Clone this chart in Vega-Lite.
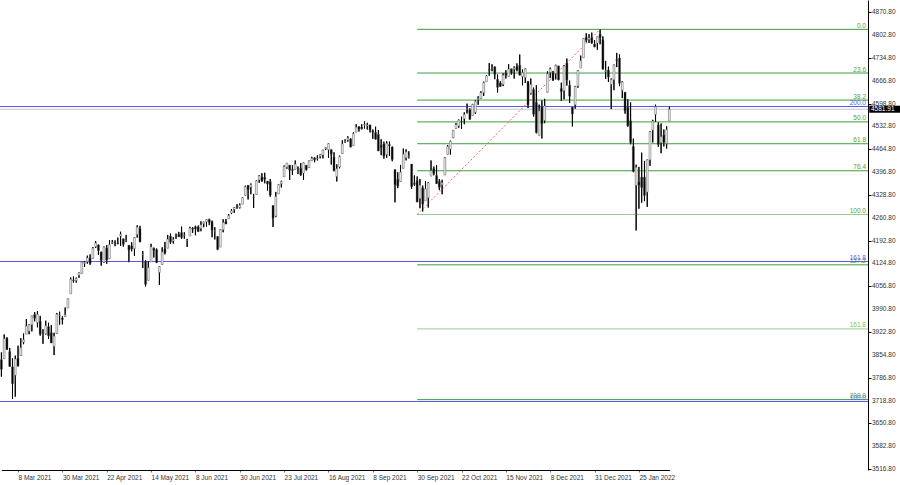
{
"$schema":"https://vega.github.io/schema/vega-lite/v6.json",
"width":868,"height":470,
"autosize":{"type":"none"},
"padding":{"left":0,"top":0,"right":32,"bottom":15},
"background":"white",
"config":{"view":{"stroke":null},"axis":{"grid":false,"labelOverlap":false,"labelFlush":false}},
"datasets":{
"ohlc":[
{"d":"2021-02-26","o":3839.7,"h":3861.1,"l":3789.5,"c":3811.2},
{"d":"2021-03-01","o":3842.5,"h":3914.5,"l":3842.5,"c":3901.8},
{"d":"2021-03-02","o":3903.6,"h":3906.4,"l":3868.6,"c":3870.3},
{"d":"2021-03-03","o":3864.0,"h":3874.5,"l":3818.9,"c":3819.7},
{"d":"2021-03-04","o":3818.5,"h":3843.7,"l":3723.3,"c":3768.5},
{"d":"2021-03-05","o":3793.6,"h":3851.7,"l":3730.2,"c":3841.9},
{"d":"2021-03-08","o":3844.4,"h":3881.1,"l":3819.3,"c":3821.4},
{"d":"2021-03-09","o":3851.9,"h":3903.8,"l":3851.9,"c":3875.4},
{"d":"2021-03-10","o":3892.0,"h":3917.4,"l":3885.7,"c":3898.8},
{"d":"2021-03-11","o":3915.5,"h":3960.3,"l":3915.5,"c":3939.3},
{"d":"2021-03-12","o":3924.5,"h":3945.0,"l":3915.2,"c":3943.3},
{"d":"2021-03-15","o":3943.0,"h":3970.1,"l":3923.5,"c":3968.9},
{"d":"2021-03-16","o":3973.6,"h":3981.0,"l":3953.4,"c":3962.7},
{"d":"2021-03-17","o":3949.6,"h":3983.9,"l":3935.7,"c":3974.1},
{"d":"2021-03-18","o":3953.5,"h":3969.6,"l":3910.9,"c":3915.5},
{"d":"2021-03-19","o":3913.1,"h":3930.1,"l":3886.8,"c":3913.1},
{"d":"2021-03-22","o":3916.5,"h":3955.3,"l":3914.2,"c":3940.6},
{"d":"2021-03-23","o":3937.6,"h":3949.1,"l":3901.6,"c":3910.5},
{"d":"2021-03-24","o":3919.9,"h":3942.1,"l":3889.1,"c":3889.1},
{"d":"2021-03-25","o":3879.3,"h":3919.5,"l":3853.5,"c":3909.5},
{"d":"2021-03-26","o":3917.1,"h":3978.2,"l":3917.1,"c":3974.5},
{"d":"2021-03-29","o":3969.3,"h":3981.8,"l":3943.3,"c":3971.1},
{"d":"2021-03-30","o":3963.3,"h":3968.0,"l":3944.4,"c":3958.6},
{"d":"2021-03-31","o":3967.3,"h":3994.4,"l":3967.0,"c":3972.9},
{"d":"2021-04-01","o":3992.8,"h":4020.6,"l":3992.8,"c":4019.9},
{"d":"2021-04-05","o":4034.4,"h":4083.4,"l":4034.4,"c":4077.9},
{"d":"2021-04-06","o":4075.6,"h":4086.2,"l":4068.1,"c":4073.9},
{"d":"2021-04-07","o":4074.3,"h":4083.1,"l":4068.3,"c":4080.0},
{"d":"2021-04-08","o":4090.0,"h":4098.2,"l":4082.5,"c":4097.2},
{"d":"2021-04-09","o":4096.1,"h":4129.5,"l":4095.5,"c":4128.8},
{"d":"2021-04-12","o":4124.7,"h":4131.8,"l":4114.8,"c":4128.0},
{"d":"2021-04-13","o":4130.1,"h":4148.0,"l":4124.4,"c":4141.6},
{"d":"2021-04-14","o":4141.6,"h":4151.7,"l":4120.9,"c":4124.7},
{"d":"2021-04-15","o":4139.8,"h":4173.5,"l":4139.8,"c":4170.4},
{"d":"2021-04-16","o":4174.1,"h":4191.3,"l":4170.8,"c":4185.5},
{"d":"2021-04-19","o":4179.8,"h":4180.8,"l":4150.5,"c":4163.3},
{"d":"2021-04-20","o":4159.2,"h":4159.2,"l":4118.4,"c":4134.9},
{"d":"2021-04-21","o":4128.4,"h":4175.0,"l":4126.4,"c":4173.4},
{"d":"2021-04-22","o":4170.5,"h":4179.6,"l":4123.7,"c":4135.0},
{"d":"2021-04-23","o":4138.8,"h":4194.2,"l":4138.8,"c":4180.2},
{"d":"2021-04-26","o":4185.0,"h":4194.2,"l":4182.4,"c":4187.6},
{"d":"2021-04-27","o":4188.3,"h":4193.4,"l":4176.2,"c":4186.7},
{"d":"2021-04-28","o":4185.1,"h":4201.5,"l":4181.8,"c":4183.2},
{"d":"2021-04-29","o":4206.1,"h":4218.8,"l":4176.8,"c":4211.5},
{"d":"2021-04-30","o":4198.1,"h":4198.1,"l":4174.9,"c":4181.2},
{"d":"2021-05-03","o":4192.0,"h":4209.4,"l":4188.0,"c":4192.7},
{"d":"2021-05-04","o":4179.0,"h":4179.0,"l":4128.6,"c":4164.7},
{"d":"2021-05-05","o":4177.1,"h":4187.7,"l":4160.9,"c":4167.6},
{"d":"2021-05-06","o":4169.1,"h":4202.7,"l":4147.3,"c":4201.6},
{"d":"2021-05-07","o":4210.3,"h":4238.0,"l":4201.6,"c":4232.6},
{"d":"2021-05-10","o":4228.3,"h":4236.4,"l":4188.1,"c":4188.4},
{"d":"2021-05-11","o":4150.3,"h":4162.0,"l":4111.5,"c":4152.1},
{"d":"2021-05-12","o":4130.6,"h":4134.7,"l":4056.9,"c":4063.0},
{"d":"2021-05-13","o":4075.0,"h":4131.6,"l":4075.0,"c":4112.5},
{"d":"2021-05-14","o":4129.6,"h":4183.1,"l":4129.6,"c":4173.9},
{"d":"2021-05-17","o":4169.9,"h":4171.9,"l":4142.7,"c":4163.3},
{"d":"2021-05-18","o":4165.9,"h":4169.2,"l":4126.0,"c":4127.8},
{"d":"2021-05-19","o":4098.5,"h":4116.9,"l":4061.4,"c":4115.7},
{"d":"2021-05-20","o":4122.0,"h":4172.8,"l":4122.0,"c":4159.1},
{"d":"2021-05-21","o":4168.6,"h":4188.7,"l":4151.7,"c":4155.9},
{"d":"2021-05-24","o":4170.2,"h":4209.5,"l":4170.2,"c":4197.1},
{"d":"2021-05-25","o":4205.9,"h":4213.4,"l":4182.5,"c":4188.1},
{"d":"2021-05-26","o":4191.6,"h":4202.6,"l":4184.1,"c":4196.0},
{"d":"2021-05-27","o":4201.9,"h":4213.4,"l":4197.8,"c":4200.9},
{"d":"2021-05-28","o":4210.8,"h":4218.4,"l":4203.6,"c":4204.1},
{"d":"2021-06-01","o":4216.5,"h":4234.1,"l":4197.6,"c":4202.0},
{"d":"2021-06-02","o":4206.8,"h":4217.4,"l":4198.3,"c":4208.1},
{"d":"2021-06-03","o":4191.4,"h":4197.8,"l":4173.9,"c":4192.9},
{"d":"2021-06-04","o":4206.1,"h":4233.5,"l":4206.1,"c":4229.9},
{"d":"2021-06-07","o":4229.3,"h":4232.3,"l":4215.7,"c":4226.5},
{"d":"2021-06-08","o":4233.8,"h":4236.7,"l":4208.4,"c":4227.3},
{"d":"2021-06-09","o":4233.0,"h":4237.1,"l":4218.7,"c":4219.6},
{"d":"2021-06-10","o":4228.6,"h":4249.7,"l":4220.3,"c":4239.2},
{"d":"2021-06-11","o":4242.9,"h":4248.4,"l":4232.3,"c":4247.4},
{"d":"2021-06-14","o":4248.3,"h":4255.6,"l":4234.1,"c":4255.2},
{"d":"2021-06-15","o":4255.3,"h":4257.2,"l":4238.4,"c":4246.6},
{"d":"2021-06-16","o":4248.9,"h":4251.9,"l":4202.5,"c":4223.7},
{"d":"2021-06-17","o":4220.4,"h":4232.3,"l":4196.1,"c":4221.9},
{"d":"2021-06-18","o":4204.8,"h":4204.8,"l":4164.4,"c":4166.5},
{"d":"2021-06-21","o":4173.4,"h":4226.2,"l":4173.4,"c":4224.8},
{"d":"2021-06-22","o":4224.6,"h":4255.8,"l":4217.3,"c":4246.4},
{"d":"2021-06-23","o":4249.3,"h":4256.6,"l":4241.4,"c":4241.8},
{"d":"2021-06-24","o":4257.0,"h":4271.3,"l":4257.0,"c":4266.5},
{"d":"2021-06-25","o":4274.5,"h":4286.1,"l":4271.2,"c":4280.7},
{"d":"2021-06-28","o":4284.9,"h":4292.1,"l":4274.7,"c":4290.6},
{"d":"2021-06-29","o":4293.2,"h":4300.5,"l":4287.0,"c":4291.8},
{"d":"2021-06-30","o":4290.7,"h":4302.4,"l":4288.0,"c":4297.5},
{"d":"2021-07-01","o":4300.7,"h":4320.7,"l":4300.7,"c":4319.9},
{"d":"2021-07-02","o":4326.6,"h":4355.4,"l":4326.6,"c":4352.3},
{"d":"2021-07-06","o":4356.5,"h":4356.5,"l":4314.4,"c":4343.5},
{"d":"2021-07-07","o":4351.0,"h":4361.9,"l":4329.8,"c":4358.1},
{"d":"2021-07-08","o":4321.1,"h":4330.9,"l":4289.4,"c":4320.8},
{"d":"2021-07-09","o":4329.4,"h":4371.6,"l":4329.4,"c":4369.6},
{"d":"2021-07-12","o":4372.4,"h":4386.7,"l":4364.0,"c":4384.6},
{"d":"2021-07-13","o":4381.1,"h":4392.4,"l":4366.9,"c":4369.2},
{"d":"2021-07-14","o":4380.1,"h":4393.7,"l":4362.4,"c":4374.3},
{"d":"2021-07-15","o":4369.0,"h":4369.0,"l":4340.7,"c":4360.0},
{"d":"2021-07-16","o":4367.4,"h":4375.1,"l":4322.5,"c":4327.2},
{"d":"2021-07-19","o":4296.4,"h":4296.4,"l":4233.1,"c":4258.5},
{"d":"2021-07-20","o":4265.1,"h":4336.8,"l":4262.1,"c":4323.1},
{"d":"2021-07-21","o":4331.1,"h":4359.7,"l":4331.1,"c":4358.7},
{"d":"2021-07-22","o":4361.3,"h":4369.9,"l":4350.1,"c":4367.5},
{"d":"2021-07-23","o":4381.2,"h":4415.2,"l":4381.2,"c":4411.8},
{"d":"2021-07-26","o":4409.6,"h":4422.7,"l":4405.5,"c":4422.3},
{"d":"2021-07-27","o":4416.4,"h":4416.4,"l":4372.5,"c":4401.5},
{"d":"2021-07-28","o":4403.0,"h":4415.5,"l":4387.0,"c":4400.6},
{"d":"2021-07-29","o":4403.6,"h":4430.0,"l":4403.6,"c":4419.2},
{"d":"2021-07-30","o":4395.1,"h":4412.3,"l":4389.7,"c":4395.3},
{"d":"2021-08-02","o":4406.9,"h":4422.2,"l":4384.8,"c":4387.2},
{"d":"2021-08-03","o":4392.7,"h":4423.8,"l":4373.0,"c":4423.2},
{"d":"2021-08-04","o":4416.0,"h":4416.2,"l":4400.2,"c":4402.7},
{"d":"2021-08-05","o":4408.9,"h":4429.8,"l":4408.9,"c":4429.1},
{"d":"2021-08-06","o":4429.1,"h":4440.8,"l":4429.1,"c":4436.5},
{"d":"2021-08-09","o":4437.8,"h":4439.4,"l":4424.7,"c":4432.4},
{"d":"2021-08-10","o":4435.8,"h":4445.2,"l":4430.0,"c":4436.8},
{"d":"2021-08-11","o":4442.2,"h":4449.4,"l":4436.4,"c":4447.7},
{"d":"2021-08-12","o":4446.1,"h":4461.8,"l":4436.0,"c":4460.8},
{"d":"2021-08-13","o":4464.8,"h":4468.4,"l":4460.8,"c":4468.0},
{"d":"2021-08-16","o":4461.7,"h":4480.3,"l":4437.7,"c":4479.7},
{"d":"2021-08-17","o":4462.1,"h":4462.1,"l":4417.8,"c":4448.1},
{"d":"2021-08-18","o":4440.9,"h":4454.3,"l":4397.6,"c":4400.3},
{"d":"2021-08-19","o":4382.4,"h":4418.6,"l":4367.7,"c":4405.8},
{"d":"2021-08-20","o":4410.6,"h":4444.4,"l":4406.8,"c":4441.7},
{"d":"2021-08-23","o":4450.3,"h":4489.9,"l":4450.3,"c":4479.5},
{"d":"2021-08-24","o":4484.4,"h":4492.8,"l":4482.3,"c":4486.2},
{"d":"2021-08-25","o":4490.5,"h":4501.7,"l":4485.7,"c":4496.2},
{"d":"2021-08-26","o":4493.8,"h":4495.9,"l":4469.0,"c":4470.0},
{"d":"2021-08-27","o":4474.1,"h":4513.3,"l":4474.1,"c":4509.4},
{"d":"2021-08-30","o":4513.8,"h":4537.4,"l":4513.8,"c":4528.8},
{"d":"2021-08-31","o":4529.8,"h":4531.4,"l":4515.8,"c":4522.7},
{"d":"2021-09-01","o":4528.8,"h":4537.1,"l":4522.0,"c":4524.1},
{"d":"2021-09-02","o":4534.5,"h":4545.9,"l":4524.7,"c":4537.0},
{"d":"2021-09-03","o":4532.4,"h":4541.5,"l":4521.7,"c":4535.4},
{"d":"2021-09-07","o":4535.4,"h":4535.4,"l":4513.0,"c":4520.0},
{"d":"2021-09-08","o":4518.1,"h":4521.8,"l":4494.0,"c":4514.1},
{"d":"2021-09-09","o":4513.0,"h":4529.9,"l":4492.1,"c":4493.3},
{"d":"2021-09-10","o":4506.9,"h":4520.5,"l":4457.7,"c":4458.6},
{"d":"2021-09-13","o":4474.8,"h":4493.0,"l":4445.7,"c":4468.7},
{"d":"2021-09-14","o":4479.3,"h":4485.7,"l":4435.5,"c":4443.1},
{"d":"2021-09-15","o":4447.5,"h":4486.9,"l":4438.4,"c":4480.7},
{"d":"2021-09-16","o":4477.1,"h":4485.9,"l":4443.8,"c":4473.8},
{"d":"2021-09-17","o":4469.7,"h":4471.5,"l":4427.8,"c":4433.0},
{"d":"2021-09-20","o":4403.0,"h":4403.0,"l":4305.9,"c":4357.7},
{"d":"2021-09-21","o":4374.5,"h":4394.9,"l":4348.0,"c":4354.2},
{"d":"2021-09-22","o":4367.4,"h":4416.8,"l":4367.4,"c":4395.6},
{"d":"2021-09-23","o":4406.8,"h":4465.4,"l":4406.8,"c":4449.0},
{"d":"2021-09-24","o":4438.0,"h":4463.1,"l":4430.3,"c":4455.5},
{"d":"2021-09-27","o":4442.1,"h":4457.3,"l":4436.2,"c":4443.1},
{"d":"2021-09-28","o":4419.5,"h":4419.5,"l":4346.3,"c":4352.6},
{"d":"2021-09-29","o":4362.4,"h":4385.6,"l":4355.1,"c":4359.5},
{"d":"2021-09-30","o":4370.7,"h":4382.6,"l":4306.2,"c":4307.5},
{"d":"2021-10-01","o":4317.2,"h":4375.2,"l":4288.5,"c":4357.0},
{"d":"2021-10-04","o":4348.8,"h":4355.5,"l":4278.9,"c":4300.5},
{"d":"2021-10-05","o":4309.9,"h":4369.2,"l":4309.9,"c":4345.7},
{"d":"2021-10-06","o":4319.6,"h":4365.6,"l":4290.5,"c":4363.6},
{"d":"2021-10-07","o":4383.7,"h":4430.0,"l":4383.7,"c":4399.8},
{"d":"2021-10-08","o":4406.5,"h":4412.0,"l":4386.2,"c":4391.3},
{"d":"2021-10-11","o":4385.4,"h":4415.9,"l":4360.6,"c":4361.2},
{"d":"2021-10-12","o":4368.3,"h":4374.9,"l":4342.1,"c":4350.7},
{"d":"2021-10-13","o":4358.0,"h":4372.9,"l":4329.9,"c":4363.8},
{"d":"2021-10-14","o":4386.8,"h":4439.7,"l":4386.8,"c":4438.3},
{"d":"2021-10-15","o":4447.7,"h":4475.8,"l":4447.7,"c":4471.4},
{"d":"2021-10-18","o":4463.7,"h":4488.8,"l":4447.5,"c":4486.5},
{"d":"2021-10-19","o":4497.3,"h":4520.4,"l":4496.4,"c":4519.6},
{"d":"2021-10-20","o":4524.4,"h":4540.9,"l":4524.4,"c":4536.2},
{"d":"2021-10-21","o":4532.2,"h":4551.4,"l":4526.9,"c":4549.8},
{"d":"2021-10-22","o":4546.1,"h":4559.7,"l":4524.0,"c":4544.9},
{"d":"2021-10-25","o":4553.7,"h":4572.6,"l":4537.4,"c":4566.5},
{"d":"2021-10-26","o":4578.7,"h":4598.5,"l":4569.2,"c":4574.8},
{"d":"2021-10-27","o":4580.2,"h":4584.6,"l":4551.7,"c":4551.7},
{"d":"2021-10-28","o":4562.8,"h":4597.6,"l":4562.8,"c":4596.4},
{"d":"2021-10-29","o":4572.9,"h":4608.1,"l":4567.6,"c":4605.4},
{"d":"2021-11-01","o":4610.6,"h":4620.3,"l":4595.1,"c":4613.7},
{"d":"2021-11-02","o":4613.3,"h":4635.2,"l":4613.3,"c":4630.7},
{"d":"2021-11-03","o":4630.7,"h":4663.5,"l":4621.2,"c":4660.6},
{"d":"2021-11-04","o":4662.9,"h":4683.0,"l":4662.6,"c":4680.1},
{"d":"2021-11-05","o":4699.3,"h":4718.5,"l":4681.3,"c":4697.5},
{"d":"2021-11-08","o":4701.5,"h":4714.9,"l":4694.4,"c":4701.7},
{"d":"2021-11-09","o":4707.3,"h":4708.5,"l":4670.9,"c":4685.3},
{"d":"2021-11-10","o":4670.3,"h":4684.9,"l":4630.9,"c":4646.7},
{"d":"2021-11-11","o":4659.4,"h":4664.6,"l":4648.3,"c":4649.3},
{"d":"2021-11-12","o":4655.2,"h":4688.5,"l":4650.4,"c":4682.9},
{"d":"2021-11-15","o":4689.3,"h":4697.4,"l":4672.9,"c":4682.8},
{"d":"2021-11-16","o":4679.4,"h":4715.0,"l":4679.4,"c":4700.9},
{"d":"2021-11-17","o":4701.5,"h":4701.5,"l":4684.4,"c":4688.7},
{"d":"2021-11-18","o":4700.7,"h":4708.8,"l":4672.8,"c":4704.5},
{"d":"2021-11-19","o":4708.4,"h":4717.8,"l":4694.2,"c":4698.0},
{"d":"2021-11-22","o":4712.0,"h":4743.8,"l":4682.2,"c":4682.9},
{"d":"2021-11-23","o":4678.5,"h":4699.4,"l":4652.7,"c":4690.7},
{"d":"2021-11-24","o":4675.8,"h":4702.9,"l":4659.9,"c":4701.5},
{"d":"2021-11-26","o":4664.6,"h":4664.6,"l":4585.4,"c":4594.6},
{"d":"2021-11-29","o":4628.8,"h":4673.0,"l":4625.3,"c":4655.3},
{"d":"2021-11-30","o":4640.3,"h":4646.0,"l":4560.0,"c":4567.0},
{"d":"2021-12-01","o":4602.8,"h":4652.9,"l":4510.3,"c":4513.0},
{"d":"2021-12-02","o":4504.7,"h":4595.5,"l":4504.7,"c":4577.1},
{"d":"2021-12-03","o":4589.5,"h":4608.0,"l":4495.1,"c":4538.4},
{"d":"2021-12-06","o":4548.4,"h":4612.6,"l":4540.5,"c":4591.7},
{"d":"2021-12-07","o":4632.0,"h":4694.0,"l":4632.0,"c":4686.8},
{"d":"2021-12-08","o":4690.9,"h":4705.1,"l":4674.5,"c":4701.2},
{"d":"2021-12-09","o":4691.0,"h":4695.3,"l":4666.0,"c":4667.5},
{"d":"2021-12-10","o":4687.6,"h":4713.6,"l":4670.2,"c":4712.0},
{"d":"2021-12-13","o":4710.3,"h":4710.3,"l":4667.6,"c":4669.0},
{"d":"2021-12-14","o":4643.0,"h":4660.5,"l":4606.5,"c":4634.1},
{"d":"2021-12-15","o":4636.5,"h":4712.6,"l":4611.2,"c":4709.9},
{"d":"2021-12-16","o":4719.1,"h":4732.0,"l":4651.9,"c":4668.7},
{"d":"2021-12-17","o":4652.5,"h":4666.7,"l":4600.2,"c":4620.6},
{"d":"2021-12-20","o":4587.9,"h":4587.9,"l":4531.1,"c":4568.0},
{"d":"2021-12-21","o":4595.0,"h":4651.1,"l":4583.2,"c":4649.2},
{"d":"2021-12-22","o":4650.4,"h":4697.7,"l":4645.5,"c":4696.6},
{"d":"2021-12-23","o":4704.0,"h":4740.7,"l":4704.0,"c":4725.8},
{"d":"2021-12-27","o":4734.0,"h":4791.5,"l":4734.0,"c":4791.2},
{"d":"2021-12-28","o":4795.5,"h":4807.0,"l":4780.0,"c":4786.4},
{"d":"2021-12-29","o":4788.6,"h":4804.1,"l":4778.1,"c":4793.1},
{"d":"2021-12-30","o":4794.2,"h":4808.9,"l":4775.3,"c":4778.7},
{"d":"2021-12-31","o":4775.2,"h":4786.8,"l":4765.8,"c":4766.2},
{"d":"2022-01-03","o":4778.1,"h":4796.6,"l":4758.2,"c":4796.6},
{"d":"2022-01-04","o":4804.5,"h":4818.6,"l":4774.3,"c":4793.5},
{"d":"2022-01-05","o":4788.0,"h":4797.7,"l":4699.4,"c":4700.6},
{"d":"2022-01-06","o":4693.4,"h":4725.0,"l":4671.3,"c":4696.1},
{"d":"2022-01-07","o":4697.7,"h":4708.0,"l":4662.7,"c":4677.0},
{"d":"2022-01-10","o":4655.3,"h":4673.0,"l":4582.2,"c":4670.3},
{"d":"2022-01-11","o":4669.1,"h":4714.1,"l":4638.3,"c":4713.1},
{"d":"2022-01-12","o":4728.6,"h":4748.8,"l":4706.7,"c":4726.4},
{"d":"2022-01-13","o":4733.6,"h":4744.1,"l":4650.3,"c":4659.0},
{"d":"2022-01-14","o":4638.0,"h":4665.1,"l":4614.8,"c":4662.9},
{"d":"2022-01-18","o":4632.2,"h":4632.2,"l":4568.7,"c":4577.1},
{"d":"2022-01-19","o":4588.0,"h":4611.6,"l":4530.2,"c":4532.8},
{"d":"2022-01-20","o":4547.4,"h":4602.1,"l":4478.0,"c":4482.7},
{"d":"2022-01-21","o":4471.4,"h":4494.5,"l":4395.3,"c":4397.9},
{"d":"2022-01-24","o":4356.3,"h":4417.4,"l":4222.6,"c":4410.1},
{"d":"2022-01-25","o":4366.6,"h":4411.0,"l":4287.1,"c":4356.5},
{"d":"2022-01-26","o":4380.6,"h":4453.2,"l":4304.8,"c":4349.9},
{"d":"2022-01-27","o":4380.6,"h":4428.7,"l":4309.5,"c":4326.5},
{"d":"2022-01-28","o":4336.2,"h":4432.7,"l":4292.5,"c":4431.9},
{"d":"2022-01-31","o":4431.8,"h":4516.9,"l":4414.0,"c":4515.6},
{"d":"2022-02-01","o":4519.6,"h":4550.5,"l":4483.5,"c":4546.5},
{"d":"2022-02-02","o":4566.4,"h":4595.3,"l":4544.3,"c":4589.4},
{"d":"2022-02-03","o":4535.4,"h":4542.9,"l":4470.4,"c":4477.4},
{"d":"2022-02-04","o":4482.8,"h":4539.7,"l":4451.5,"c":4500.5},
{"d":"2022-02-07","o":4505.8,"h":4521.9,"l":4471.5,"c":4483.9},
{"d":"2022-02-08","o":4480.0,"h":4531.3,"l":4465.4,"c":4521.5},
{"d":"2022-02-09","o":4547.0,"h":4590.0,"l":4547.0,"c":4581.9}
],
"fib":[
{"x0":"2021-09-30","lvl":"0.0","p":4818.6},
{"x0":"2021-09-30","lvl":"23.6","p":4689.1},
{"x0":"2021-09-30","lvl":"38.2","p":4609.0},
{"x0":"2021-09-30","lvl":"50.0","p":4544.3},
{"x0":"2021-09-30","lvl":"61.8","p":4479.6},
{"x0":"2021-09-30","lvl":"76.4","p":4399.5},
{"x0":"2021-09-30","lvl":"100.0","p":4270.0},
{"x0":"2021-09-30","lvl":"127.2","p":4120.8},
{"x0":"2021-09-30","lvl":"161.8","p":3931.0},
{"x0":"2021-09-30","lvl":"200.0","p":3721.4}
],
"blue":[
{"lvl":"200.0","p":4589.9},
{"lvl":"161.8","p":4130.7},
{"lvl":"100.0","p":3715.9}
],
"trend":[
{"d":"2021-09-30","p":4270.0},
{"d":"2022-01-04","p":4818.6}
],
"yticks":[
{"v":4870.8},{"v":4802.8},{"v":4734.8},{"v":4666.8},{"v":4598.8},{"v":4532.8},{"v":4464.8},{"v":4396.8},{"v":4328.8},{"v":4260.8},{"v":4192.8},{"v":4124.8},{"v":4056.8},{"v":3990.8},{"v":3922.8},{"v":3854.8},{"v":3786.8},{"v":3718.8},{"v":3650.8},{"v":3582.8},{"v":3516.8}
],
"price":[{"p":4581.91,"t":"4581.91"}]
},
"layer":[
{"data":{"name":"ohlc"},
 "mark":{"type":"rule","color":"#000","strokeWidth":1},
 "encoding":{
  "x":{"field":"d","type":"ordinal","scale":{"type":"point","range":[1.4,669.4],"padding":0},
   "axis":{"orient":"bottom","title":null,"values":["2021-03-08","2021-03-30","2021-04-22","2021-05-14","2021-06-08","2021-06-30","2021-07-23","2021-08-16","2021-09-08","2021-09-30","2021-10-22","2021-11-15","2021-12-08","2021-12-31","2022-01-25"],
    "labelExpr":"utcFormat(toDate(datum.value), '%-d %b %Y')","labelAngle":0,"labelAlign":"left","labelBaseline":"top","labelFont":"Liberation Sans","labelFontSize":6.5,"labelColor":"#333","labelPadding":2,"tickSize":2,"tickColor":"#666","domainColor":"#000","labelOverlap":false,"labelFlush":false}},
  "y":{"field":"l","type":"quantitative","scale":{"domain":[3512.9,4905.5],"nice":false,"zero":false},
   "axis":{"orient":"right","title":null,"values":[4870.8,4802.8,4734.8,4666.8,4598.8,4532.8,4464.8,4396.8,4328.8,4260.8,4192.8,4124.8,4056.8,3990.8,3922.8,3854.8,3786.8,3718.8,3650.8,3582.8,3516.8],
    "labels":false,"tickSize":3,"tickColor":"#000","domainColor":"#000"}},
  "y2":{"field":"h"}
 }},
{"data":{"name":"blue"},
 "mark":{"type":"rule","color":"#5a5ae8","strokeWidth":1.2},
 "encoding":{"y":{"field":"p","type":"quantitative"}}},
{"data":{"name":"price"},
 "mark":{"type":"rule","color":"#c4c4c4","strokeWidth":1},
 "encoding":{"y":{"field":"p","type":"quantitative"}}},
{"data":{"name":"fib"},
 "mark":{"type":"rule","strokeWidth":1},
 "encoding":{
  "x":{"field":"x0","type":"ordinal"},
  "x2":{"value":"width"},
  "y":{"field":"p","type":"quantitative"},
  "color":{"condition":{"test":"datum.lvl=='100.0' || datum.lvl=='161.8'","value":"#93cc93"},"value":"#3c9e3c"}
 }},
{"data":{"name":"trend"},
 "mark":{"type":"line","color":"#ff5a5a","strokeWidth":1,"strokeDash":[2,2]},
 "encoding":{"x":{"field":"d","type":"ordinal"},"y":{"field":"p","type":"quantitative"}}},
{"data":{"name":"ohlc"},
 "mark":{"type":"rule","color":"#000","strokeWidth":1},
 "encoding":{"x":{"field":"d","type":"ordinal"},"y":{"field":"l","type":"quantitative"},"y2":{"field":"h"}}},
{"data":{"name":"ohlc"},
 "mark":{"type":"bar","width":2,"stroke":"#555","strokeWidth":0.4},
 "encoding":{"x":{"field":"d","type":"ordinal"},"y":{"field":"o","type":"quantitative"},"y2":{"field":"c"},
  "fill":{"condition":{"test":"datum.c >= datum.o","value":"#e4e4e4"},"value":"#000"}}},
{"data":{"name":"fib"},
 "mark":{"type":"text","align":"right","baseline":"bottom","dx":-2,"dy":-0.5,"font":"Liberation Sans","fontSize":6.5},
 "encoding":{"x":{"value":"width"},"y":{"field":"p","type":"quantitative"},"text":{"field":"lvl"},
  "color":{"condition":{"test":"datum.lvl=='161.8'","value":"#79bf59"},"value":"#5a9e2c"}}},
{"data":{"name":"blue"},
 "mark":{"type":"text","align":"right","baseline":"bottom","dx":-2,"dy":-0.5,"font":"Liberation Sans","fontSize":6.5,"color":"#5a5ae8"},
 "encoding":{"x":{"value":"width"},"y":{"field":"p","type":"quantitative"},"text":{"field":"lvl"}}},
{"data":{"name":"yticks"},
 "mark":{"type":"text","align":"left","baseline":"middle","dx":4,"font":"Liberation Sans","fontSize":6.5,"color":"#333"},
 "encoding":{"x":{"value":"width"},"y":{"field":"v","type":"quantitative"},"text":{"field":"v","type":"quantitative","format":".2f"}}},
{"data":{"name":"price"},
 "mark":{"type":"point","shape":"M0.08,-0.22L2,-0.22L2,0.22L0.08,0.22Z","size":1024,"filled":true,"color":"#000","opacity":1,"strokeWidth":0},
 "encoding":{"x":{"value":"width"},"y":{"field":"p","type":"quantitative"}}},
{"data":{"name":"price"},
 "mark":{"type":"text","align":"left","baseline":"middle","dx":3,"font":"Liberation Sans","fontSize":6.5,"color":"#fff"},
 "encoding":{"x":{"value":"width"},"y":{"field":"p","type":"quantitative"},"text":{"field":"t"}}}
]
}
